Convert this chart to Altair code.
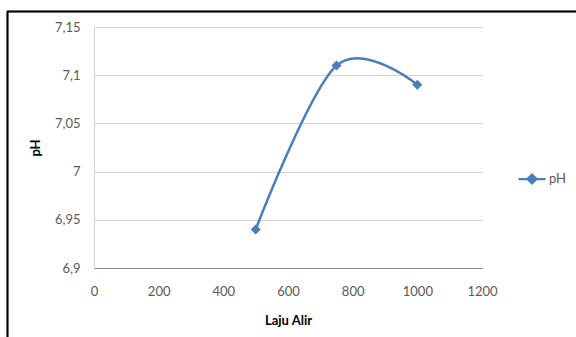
import altair as alt
import pandas as pd

# Data
laju_alir = [500, 750, 1000]
ph_values = [6.94, 7.11, 7.09]
series = ["pH", "pH", "pH"]
y_ticks = [6.9, 6.95, 7.0, 7.05, 7.1, 7.15]
x_ticks = [0, 200, 400, 600, 800, 1000, 1200]

df = pd.DataFrame({"Laju Alir": laju_alir, "pH": ph_values, "series": series})

BLUE = "#4a7ebb"
FONT = "Lato"

W, H = 388, 241
PL, PT = 94, 27

x_enc = alt.X(
    "Laju Alir:Q",
    scale=alt.Scale(domain=[0, 1200], nice=False, zero=False),
    axis=alt.Axis(
        values=x_ticks, grid=False, ticks=False, domainColor="#888888",
        format="d", labelFlush=False,
        labelColor="#595959", labelFontSize=13, labelFont=FONT, labelPadding=17,
        title="Laju Alir", titleFont=FONT, titleFontSize=13, titleFontWeight="bold",
        titleColor="#000000", titlePadding=16,
    ),
)
y_enc = alt.Y(
    "pH:Q",
    scale=alt.Scale(domain=[6.9, 7.15], nice=False, zero=False),
    axis=alt.Axis(
        values=y_ticks, grid=True, gridColor="#d4d4d4", ticks=False,
        domainColor="#d4d4d4", labelFlush=False,
        labelExpr="replace(format(datum.value, ''), '.', ',')",
        labelColor="#595959", labelFontSize=13, labelFont=FONT, labelPadding=14,
        title="pH", titleFont=FONT, titleFontSize=13, titleFontWeight="bold",
        titleColor="#000000", titlePadding=12,
    ),
)

color_enc = alt.Color(
    "series:N",
    scale=alt.Scale(domain=["pH"], range=[BLUE]),
    legend=alt.Legend(
        title=None, orient="none", legendX=423, legendY=137,
        symbolType="M-1,0L1,0M0,-0.33L0.33,0L0,0.33L-0.33,0Z",
        symbolSize=729, symbolStrokeWidth=2.25, symbolFillColor=BLUE,
        labelFont=FONT, labelFontSize=13, labelColor="#595959", labelOffset=2,
    ),
)

line = alt.Chart(df).mark_line(
    interpolate="cardinal", tension=0, strokeWidth=2.5, color=BLUE
).encode(x=x_enc, y=y_enc, color=color_enc)

points = alt.Chart(df).mark_point(
    shape="diamond", filled=True, size=100, opacity=1, color=BLUE
).encode(x="Laju Alir:Q", y="pH:Q")

border_top = alt.Chart(df).mark_rule(color="#000000", strokeWidth=1.5).encode(
    x=alt.value(7 - PL), x2=alt.value(576 - PL), y=alt.value(11.5 - PT)
)
border_left = alt.Chart(df).mark_rule(color="#000000", strokeWidth=1.5).encode(
    x=alt.value(7.5 - PL), y=alt.value(11 - PT), y2=alt.value(337 - PT)
)

chart = alt.layer(line, points, border_top, border_left).properties(
    width=W, height=H,
    autosize=alt.AutoSizeParams(type="none"),
    padding={"left": PL, "top": PT, "right": 576 - PL - W, "bottom": 337 - PT - H},
    background="#ffffff",
).configure_view(strokeWidth=0)

chart.save("out.html", embed_options={"renderer": "svg", "actions": False})
